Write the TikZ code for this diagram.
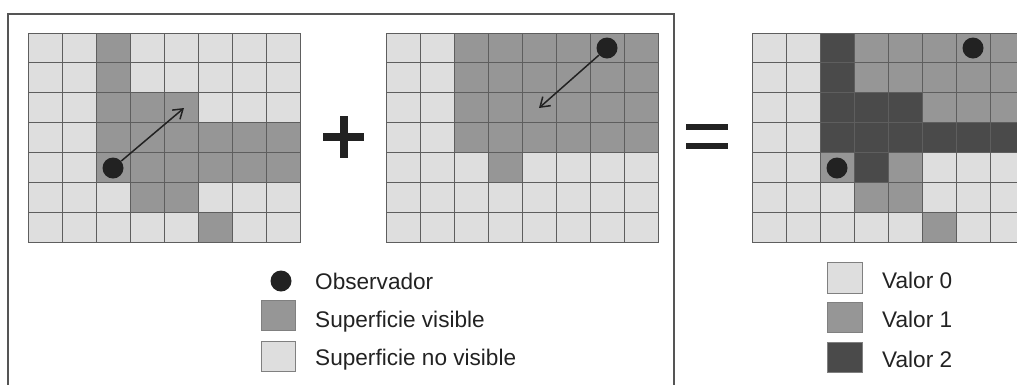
\documentclass[tikz,border=0pt]{standalone}
\usepackage{fontspec}
\setmainfont{Liberation Sans}
\usetikzlibrary{arrows.meta}
\definecolor{c0}{HTML}{DEDEDE}
\definecolor{c1}{HTML}{969696}
\definecolor{c2}{HTML}{4A4A4A}
\definecolor{gline}{HTML}{5E5E5E}
\definecolor{ink}{HTML}{222222}
\definecolor{framec}{HTML}{555555}
\tikzset{
  cell/.style={draw=gline, line width=0.8pt},
  obs/.style={circle, fill=ink, inner sep=0pt, minimum size=21pt},
  sightline/.style={draw=ink, line width=1.5pt, -{Straight Barb[length=9pt,width=12pt]}},
  lab/.style={anchor=base west, inner sep=0pt, text=ink, font=\fontsize{22.6}{26}\selectfont},
  keybox/.style={draw=gray, line width=0.8pt},
  sign/.style={fill=ink, draw=none}
}
\newcommand{\gridrow}[4]{% x0, row, list
  \foreach \v [count=\c from 0] in {#3} {
    \path[cell, fill=c\v] ({#1+34*\c},{33+209/7*#2}) rectangle ++(34,209/7);
  }
}
\begin{document}
\begin{tikzpicture}[x=1pt, y=-1pt]
\useasboundingbox (0,0) rectangle (1017,384);
\clip (0,0) rectangle (1017,384);
% frame
\draw[framec, line width=1.4pt] (8,392) -- (8,14) -- (674,14) -- (674,392);
% grid 1
\gridrow{28}{0}{0,0,1,0,0,0,0,0}{}
\gridrow{28}{1}{0,0,1,0,0,0,0,0}{}
\gridrow{28}{2}{0,0,1,1,1,0,0,0}{}
\gridrow{28}{3}{0,0,1,1,1,1,1,1}{}
\gridrow{28}{4}{0,0,1,1,1,1,1,1}{}
\gridrow{28}{5}{0,0,0,1,1,0,0,0}{}
\gridrow{28}{6}{0,0,0,0,0,1,0,0}{}
% grid 2
\gridrow{386}{0}{0,0,1,1,1,1,1,1}{}
\gridrow{386}{1}{0,0,1,1,1,1,1,1}{}
\gridrow{386}{2}{0,0,1,1,1,1,1,1}{}
\gridrow{386}{3}{0,0,1,1,1,1,1,1}{}
\gridrow{386}{4}{0,0,0,1,0,0,0,0}{}
\gridrow{386}{5}{0,0,0,0,0,0,0,0}{}
\gridrow{386}{6}{0,0,0,0,0,0,0,0}{}
% grid 3
\gridrow{752}{0}{0,0,2,1,1,1,1,1}{}
\gridrow{752}{1}{0,0,2,1,1,1,1,1}{}
\gridrow{752}{2}{0,0,2,2,2,1,1,1}{}
\gridrow{752}{3}{0,0,2,2,2,2,2,2}{}
\gridrow{752}{4}{0,0,1,2,1,0,0,0}{}
\gridrow{752}{5}{0,0,0,1,1,0,0,0}{}
\gridrow{752}{6}{0,0,0,0,0,1,0,0}{}
% observers and sight lines
\node[obs] (o1) at (113,168) {};
\coordinate (t1) at (184,108);
\draw[sightline] (o1) -- (t1);
\node[obs] (o2) at (607,48) {};
\coordinate (t2) at (539,108);
\draw[sightline] (o2) -- (t2);
\node[obs] (o3) at (973,48) {};
\node[obs] (o4) at (837,168) {};
% plus and equals
\fill[sign] (322.7,133.2) rectangle (364.3,140.8);
\fill[sign] (340,116) rectangle (347.5,158);
\fill[sign] (686,123.8) rectangle (728,130.2);
\fill[sign] (686,142.8) rectangle (728,149.2);
% left legend
\node[obs] (k1) at (281,281) {};
\node[lab] (l1) at (315,289) {Observador};
\path[keybox, fill=c1] (261,300) rectangle (295,330);
\node[lab] (l2) at (315,327) {Superficie visible};
\path[keybox, fill=c0] (261,341) rectangle (295,371);
\node[lab] (l3) at (315,365) {Superficie no visible};
% right legend
\path[keybox, fill=c0] (827,262) rectangle (862,293);
\node[lab] (v0) at (882,288) {Valor 0};
\path[keybox, fill=c1] (827,302) rectangle (862,332);
\node[lab] (v1) at (882,327) {Valor 1};
\path[keybox, fill=c2] (827,342) rectangle (862,372);
\node[lab] (v2) at (882,367) {Valor 2};
\end{tikzpicture}
\end{document}
